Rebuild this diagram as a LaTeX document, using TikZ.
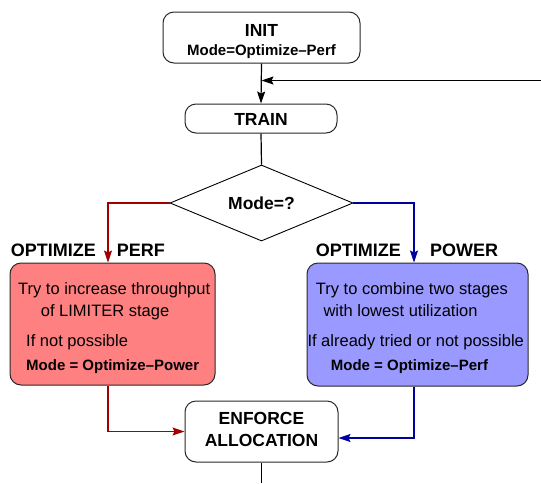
\documentclass[tikz,border=0pt]{standalone}
\usepackage{fontspec}
\setmainfont{Liberation Sans}
\usetikzlibrary{arrows.meta,shapes.geometric}
\definecolor{redfill}{RGB}{255,128,128}
\definecolor{bluefill}{RGB}{153,153,255}
\definecolor{redline}{RGB}{160,0,0}
\definecolor{blueline}{RGB}{0,0,160}
\definecolor{edge}{RGB}{40,40,40}
\tikzset{
  box/.style={draw=edge,line width=1pt,rounded corners=11pt,inner sep=0pt},
  conn/.style={line width=1.2pt},
  arr/.style={conn,-{Stealth[length=12pt,width=8pt,inset=2pt]}},
  ttl/.style={font=\fontsize{17.5}{20}\selectfont\bfseries,inner sep=0pt,anchor=base},
  sub/.style={font=\fontsize{15}{18}\selectfont\bfseries,inner sep=0pt},
  txt/.style={font=\fontsize{16.5}{19}\selectfont,inner sep=0pt,anchor=base west},
  lab/.style={font=\fontsize{18}{20}\selectfont\bfseries,inner sep=0pt,anchor=base west},
}
\begin{document}
\begin{tikzpicture}[x=1pt,y=-1pt]
\useasboundingbox (0,0) rectangle (541,483);
% boxes
\node[box,minimum width=197pt,minimum height=51pt] (init) at (261.5,37.5) {};
\node[box,minimum width=152pt,minimum height=29pt] (train) at (261,118.5) {};
\node[draw=black,line width=0.9pt,diamond,aspect=2.4,minimum width=183pt,minimum height=76pt,inner sep=0pt] (dia) at (261.5,203) {};
\node[box,fill=redfill,minimum width=205pt,minimum height=122pt] (red) at (112.5,324) {};
\node[box,fill=bluefill,minimum width=221pt,minimum height=123pt] (blue) at (417.5,324.5) {};
\node[box,minimum width=153pt,minimum height=61pt] (enf) at (261.5,431.5) {};
% texts
\node[ttl] (tinit) at (261.5,36.7) {INIT};
\node[sub,anchor=base] (tmode) at (261.5,55.5) {Mode=Optimize–Perf};
\node[ttl] (ttrain) at (261,125.8) {TRAIN};
\node[ttl] (tdia) at (261.5,209) {Mode=?};
\node[ttl] (tenf1) at (261.5,424.3) {ENFORCE};
\node[ttl] (tenf2) at (261.5,446.7) {ALLOCATION};
\node[lab] (lopt1) at (10.7,256) {OPTIMIZE};
\node[lab] (lperf) at (116.7,256) {PERF};
\node[lab] (lopt2) at (315.7,256) {OPTIMIZE};
\node[lab] (lpow) at (430,256) {POWER};
\node[txt] (r1) at (18,294.3) {Try to increase throughput};
\node[txt] (r2) at (40.7,316.7) {of LIMITER stage};
\node[txt] (r3) at (26,346.7) {If not possible};
\node[sub,anchor=base west] (r4) at (26,370) {Mode = Optimize–Power};
\node[txt] (b1) at (315.7,294.3) {Try to combine two stages};
\node[txt] (b2) at (323.3,316.7) {with lowest utilization};
\node[txt] (b3) at (307.3,346.7) {If already tried or not possible};
\node[sub,anchor=base west] (b4) at (330.7,370) {Mode = Optimize–Perf};
% connectors
\coordinate (fb) at (541,80.5);
\coordinate (out) at (261.5,483);
\draw[arr] (init.south) -- (train.north);
\draw[arr] (fb) -- (fb -| init.south);
\draw[conn] (train.south) -- (dia.north);
\draw[arr,redline] (dia.west) -| ([xshift=-4.5pt]red.north);
\draw[arr,redline] ([xshift=-4.5pt]red.south) |- (enf.west);
\draw[arr,blueline] (dia.east) -| ([xshift=-3.5pt]blue.north);
\draw[arr,blueline] ([xshift=-3.5pt]blue.south) |- ([yshift=-6.5pt]enf.east);
\draw[conn] (enf.south) -- (out);
\end{tikzpicture}
\end{document}
